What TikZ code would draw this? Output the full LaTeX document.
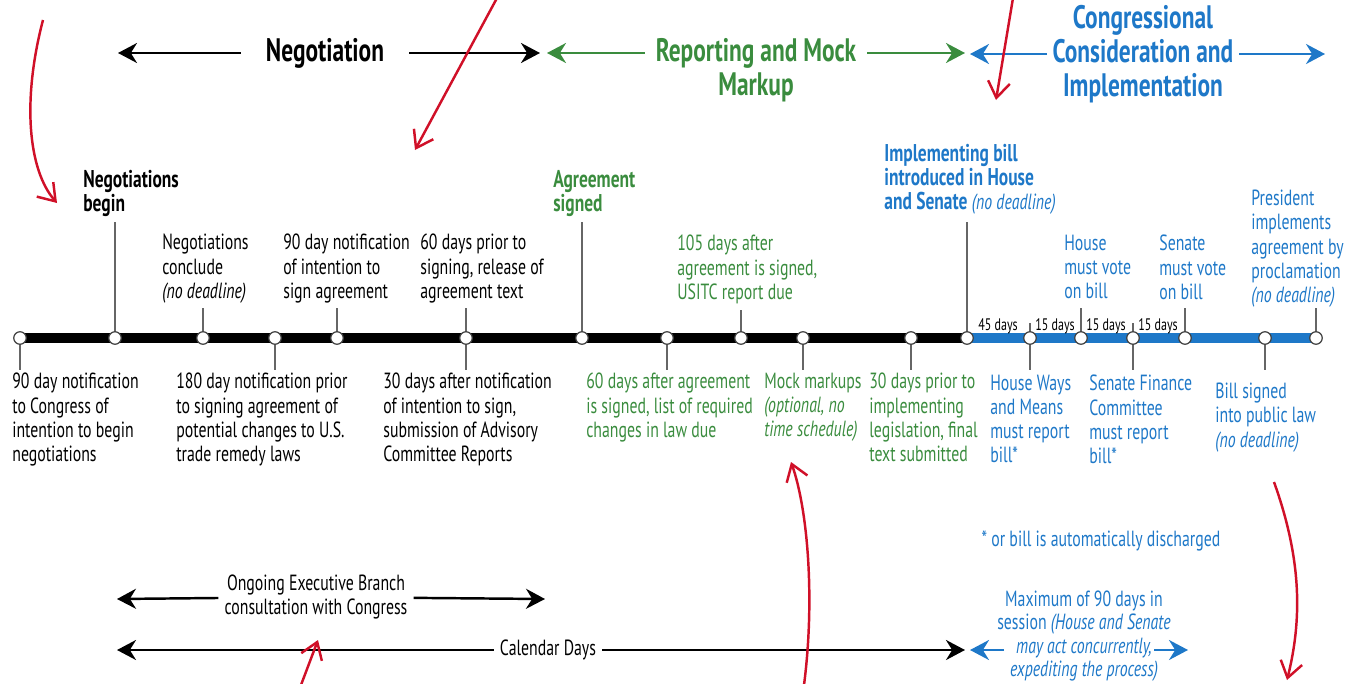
\documentclass[tikz,border=0pt]{standalone}
\usepackage{fontspec}
\setmainfont{PT Sans}[FakeStretch=0.72]
\usepackage{tikz}
\usetikzlibrary{arrows.meta}
\definecolor{repGreen}{RGB}{58,140,62}
\definecolor{conBlue}{RGB}{30,120,200}
\definecolor{noteRed}{RGB}{208,16,40}
\newcommand{\lblFont}{\fontsize{12.5}{13.7}\selectfont}
\newcommand{\drawStop}[1]{
    \node[stop] (c#1) at (p#1) {};
}
\tikzset{
    lbl/.style={font=\lblFont, align=left, inner sep=0pt, anchor=north west},
    blbl/.style={lbl, font=\fontsize{13.8}{13.7}\selectfont\bfseries},
    hdr/.style={font=\fontsize{18.5}{19.4}\selectfont\bfseries, align=center},
    ctr/.style={font=\fontsize{12.5}{13.2}\selectfont, align=center},
    dayl/.style={font=\fontsize{9.5}{10}\selectfont, inner sep=0pt},
    stop/.style={circle, draw=black!75, fill=white, line width=0.7pt, minimum size=0.25cm, inner sep=0pt},
    bar/.style={line width=5.7pt},
    tick/.style={draw=black!60, line width=0.6pt},
    arr/.style={line width=1.4pt, -{Stealth[length=3.8mm,width=4mm]}},
    note/.style={noteRed, line width=1.4pt, -{Straight Barb[length=3.2mm,width=4.4mm]}}
}
\begin{document}
\begin{tikzpicture}[x=0.02cm,y=-0.02cm]
    \useasboundingbox (0,0) rectangle (1359,683);

    % phase headers
    \node[hdr, inner sep=14pt] (neg) at (325,53) {Negotiation};
    \coordinate (negL) at (118,53);
    \coordinate (negR) at (540,53);
    \draw[arr] (neg) -- (negL);
    \draw[arr] (neg) -- (negR);

    \node[hdr, repGreen, inner sep=6pt] (rep) at (756,70) {Reporting and Mock\\Markup};
    \coordinate (repL) at (547,53);
    \coordinate (repR) at (965,53);
    \draw[arr, repGreen] (rep.west |- neg) -- (repL);
    \draw[arr, repGreen] (rep.east |- neg) -- (repR);

    \node[hdr, conBlue, inner sep=3pt] (con) at (1143,54) {Congressional\\Consideration and\\Implementation};
    \coordinate (conL) at (970,54);
    \coordinate (conR) at (1325,54);
    \draw[arr, conBlue] (con) -- (conL);
    \draw[arr, conBlue] (con) -- (conR);

    % timeline
    \foreach \n/\x in {1/20,2/115,3/203,4/275,5/337,6/466,7/582,8/667,9/741,10/803,
                       11/911,12/967,13/1030,14/1081,15/1133,16/1185,17/1265,18/1316} {
        \coordinate (p\n) at (\x,338);
    }
    \draw[bar] (p1) -- (p12);
    \draw[bar, conBlue] (p12) -- (p18);
    \foreach \n/\y in {2/222,3/308,5/308,6/308,7/222,9/310,12/222,13/323,14/308,15/323,16/308,18/308} {
        \coordinate (t\n) at (p\n |- 0,\y);
        \draw[tick] (p\n) -- (t\n);
    }
    \foreach \n in {1,4,6,8,10,11,13,15,17} {
        \coordinate (b\n) at ([yshift=-0.64cm]p\n);
        \draw[tick] (p\n) -- (b\n);
    }
    \foreach \n in {1,...,18} {
        \drawStop{\n}
    }

    \node[dayl] (d1) at (998,326) {45 days};
    \node[dayl] (d2) at (1055,326) {15 days};
    \node[dayl] (d3) at (1106,326) {15 days};
    \node[dayl] (d4) at (1158,326) {15 days};

    % labels above
    \node[blbl] (nbeg) at (83,170) {Negotiations\\begin};
    \node[lbl] (ncon) at (162,234) {Negotiations\\conclude\\\textit{(no deadline)}};
    \node[lbl] (n90) at (283,234) {90 day notification\\of intention to\\sign agreement};
    \node[lbl] (n60) at (420,234) {60 days prior to\\signing, release of\\agreement text};
    \node[blbl, repGreen] (agr) at (553,170) {Agreement\\signed};
    \node[lbl, repGreen] (r105) at (677,235) {105 days after\\agreement is signed,\\USITC report due};
    \node[blbl, conBlue] (ibill) at (884,144) {Implementing bill\\introduced in House\\and Senate {\mdseries\itshape\lblFont (no deadline)}};
    \node[lbl, conBlue] (hvote) at (1064,235) {House\\must vote\\on bill};
    \node[lbl, conBlue] (svote) at (1159,235) {Senate\\must vote\\on bill};
    \node[lbl, conBlue] (pres) at (1251,190) {President\\implements\\agreement by\\proclamation\\\textit{(no deadline)}};

    % labels below
    \node[lbl] (n90c) at (12,373) {90 day notification\\to Congress of\\intention to begin\\negotiations};
    \node[lbl] (n180) at (176,373) {180 day notification prior\\to signing agreement of\\potential changes to U.S.\\trade remedy laws};
    \node[lbl] (n30) at (383,373) {30 days after notification\\of intention to sign,\\submission of Advisory\\Committee Reports};
    \node[lbl, repGreen] (r60) at (586,373) {60 days after agreement\\is signed, list of required\\changes in law due};
    \node[lbl, repGreen] (mock) at (764,373) {Mock markups\\\textit{(optional, no}\\\textit{time schedule)}};
    \node[lbl, repGreen] (r30) at (869,373) {30 days prior to\\implementing\\legislation, final\\text submitted};
    \node[lbl, conBlue] (hwm) at (990,375) {House Ways\\and Means\\must report\\bill*};
    \node[lbl, conBlue] (sfc) at (1089,375) {Senate Finance\\Committee\\must report\\bill*};
    \node[lbl, conBlue] (bsig) at (1215,383) {Bill signed\\into public law\\\textit{(no deadline)}};

    \node[ctr, conBlue] (disch) at (1101,541) {* or bill is automatically discharged};

    % bottom spans
    \node[ctr] (exec) at (316,597) {Ongoing Executive Branch\\consultation with Congress};
    \coordinate (execL) at (117,599);
    \coordinate (execR) at (545,599);
    \draw[arr] (exec) -- (execL);
    \draw[arr] (exec) -- (execR);

    \node[ctr] (cal) at (548,650) {Calendar Days};
    \coordinate (calL) at (117,650);
    \coordinate (calR) at (965,650);
    \draw[arr] (cal) -- (calL);
    \draw[arr] (cal) -- (calR);

    \node[ctr, conBlue] (max) at (1084,636) {Maximum of 90 days in\\session \textit{(House and Senate}\\\textit{may act concurrently,}\\\textit{expediting the process)}};
    \coordinate (maxA) at (1004,650);
    \coordinate (maxL) at (970,650);
    \coordinate (maxB) at (1154,650);
    \coordinate (maxR) at (1188,650);
    \draw[arr, conBlue] (maxA) -- (maxL);
    \draw[arr, conBlue] (maxB) -- (maxR);

    % red marks
    \draw[note] (43,20) .. controls (22,100) and (28,170) .. (57,203);
    \draw[note] (497,-2) -- (415,150);
    \draw[note] (1013,-2) -- (996,100);
    \draw[note] (804,685) .. controls (815,600) and (808,510) .. (791,462);
    \draw[note] (301,685) -- (318,640);
    \draw[note] (1274,482) .. controls (1302,560) and (1302,620) .. (1287,680);
\end{tikzpicture}
\end{document}
